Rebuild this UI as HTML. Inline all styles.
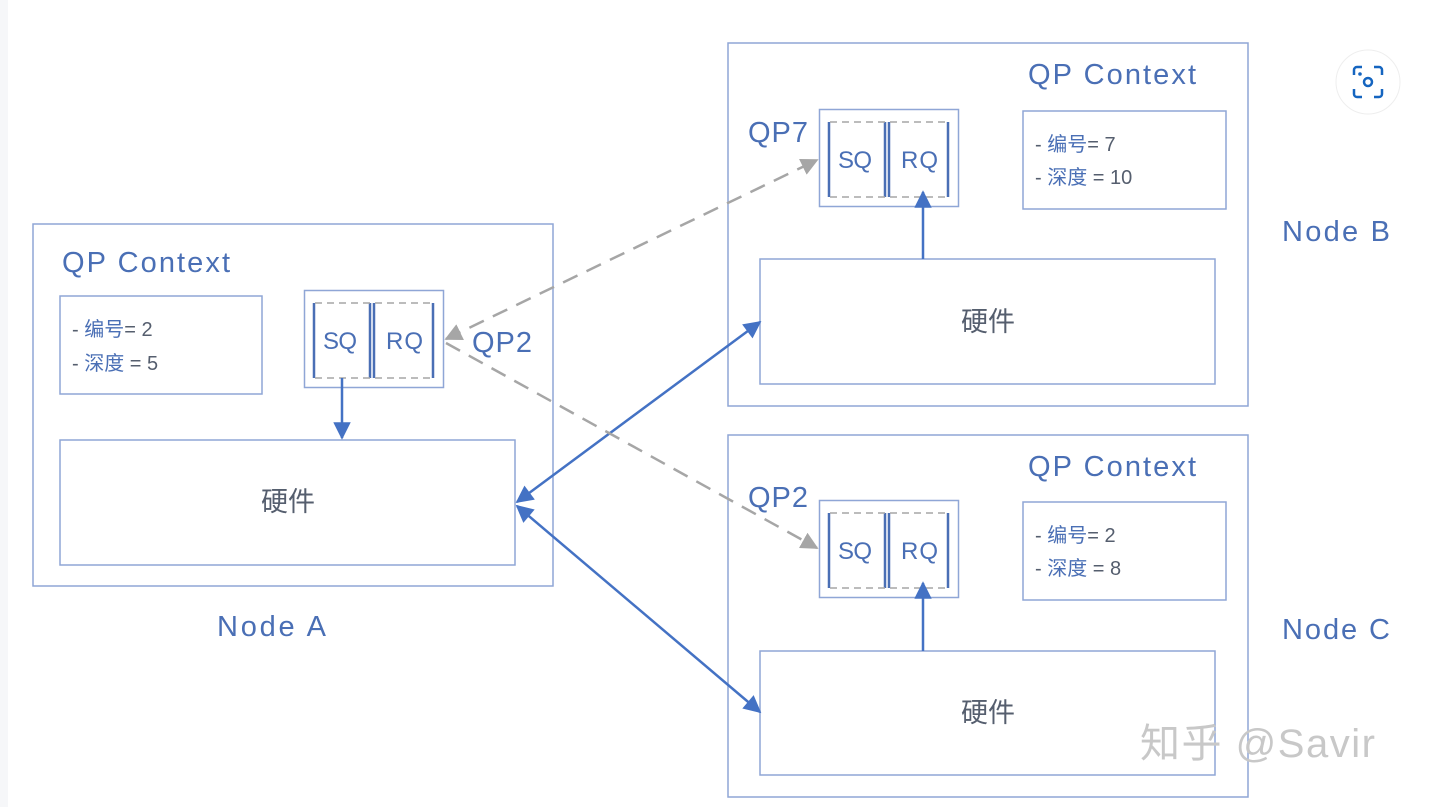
<!DOCTYPE html>
<html><head><meta charset="utf-8"><style>
html,body{margin:0;padding:0;background:#fff;}
svg{display:block;}
text{font-family:"Liberation Sans","Noto Sans CJK SC",sans-serif;}
</style></head><body>
<svg width="1441" height="807" viewBox="0 0 1441 807" xmlns="http://www.w3.org/2000/svg">
<defs>
<marker id="ab" viewBox="0 0 10 10" refX="9" refY="5" markerWidth="8" markerHeight="7" orient="auto-start-reverse" markerUnits="strokeWidth"><path d="M0,0L10,5L0,10z" fill="#4472c4"/></marker>
<marker id="ag" viewBox="0 0 10 10" refX="9" refY="5" markerWidth="7" markerHeight="7" orient="auto-start-reverse" markerUnits="strokeWidth"><path d="M0,0L10,5L0,10z" fill="#a6a6a6"/></marker>
<g id="q">
<rect x="0.5" y="0.5" width="139" height="97" fill="#fff" stroke="#8fa6d6" stroke-width="1.5"/>
<line x1="10" y1="13" x2="10" y2="88" stroke="#4a6fb5" stroke-width="2.5"/>
<line x1="66" y1="13" x2="66" y2="88" stroke="#4a6fb5" stroke-width="2.5"/>
<line x1="70" y1="13" x2="70" y2="88" stroke="#4a6fb5" stroke-width="2.5"/>
<line x1="129" y1="13" x2="129" y2="88" stroke="#4a6fb5" stroke-width="2.5"/>
<line x1="11" y1="13" x2="129" y2="13" stroke="#a6a6a6" stroke-width="1.5" stroke-dasharray="7,5"/>
<line x1="11" y1="88" x2="129" y2="88" stroke="#a6a6a6" stroke-width="1.5" stroke-dasharray="7,5"/>
<text x="19" y="59" font-size="24" fill="#4a6fb5" textLength="34">SQ</text>
<text x="82" y="59" font-size="24" fill="#4a6fb5" textLength="37">RQ</text>
</g>
</defs>
<rect x="0" y="0" width="8" height="807" fill="#f6f7f9"/>
<g fill="none" stroke="#8fa6d6" stroke-width="1.5">
<rect x="33" y="224" width="520" height="362"/>
<rect x="728" y="43" width="520" height="363"/>
<rect x="728" y="435" width="520" height="362"/>
<rect x="60" y="440" width="455" height="125"/>
<rect x="760" y="259" width="455" height="125"/>
<rect x="760" y="651" width="455" height="124"/>
<rect x="60" y="296" width="202" height="98"/>
<rect x="1023" y="111" width="203" height="98"/>
<rect x="1023" y="502" width="203" height="98"/>
</g>
<use href="#q" x="304" y="290"/>
<use href="#q" x="819" y="109"/>
<use href="#q" x="819" y="500"/>
<g fill="#4a6fb5" font-size="29">
<text x="62" y="272" textLength="168">QP Context</text>
<text x="1028" y="84" textLength="168">QP Context</text>
<text x="1028" y="476" textLength="168">QP Context</text>
<text x="217" y="636" textLength="109">Node A</text>
<text x="1282" y="241" textLength="108">Node B</text>
<text x="1282" y="639" textLength="108">Node C</text>
<text x="472" y="352" textLength="60">QP2</text>
<text x="748" y="142" textLength="60">QP7</text>
<text x="748" y="507" textLength="60">QP2</text>
</g>
<g fill="#555e6e" font-size="20">
<text x="72" y="336">- <tspan fill="#4a6fb5">编号</tspan>= 2</text>
<text x="72" y="370">- <tspan fill="#4a6fb5">深度</tspan> = 5</text>
<text x="1035" y="151">- <tspan fill="#4a6fb5">编号</tspan>= 7</text>
<text x="1035" y="184">- <tspan fill="#4a6fb5">深度</tspan> = 10</text>
<text x="1035" y="542">- <tspan fill="#4a6fb5">编号</tspan>= 2</text>
<text x="1035" y="575">- <tspan fill="#4a6fb5">深度</tspan> = 8</text>
</g>
<g fill="#555e6e" font-size="27" text-anchor="middle">
<text x="288" y="511">硬件</text>
<text x="988" y="331">硬件</text>
<text x="988" y="722">硬件</text>
</g>
<g stroke="#4472c4" stroke-width="2.5" fill="none">
<line x1="342" y1="378" x2="342" y2="438" marker-end="url(#ab)"/>
<line x1="923" y1="259" x2="923" y2="192" marker-end="url(#ab)"/>
<line x1="923" y1="651" x2="923" y2="583" marker-end="url(#ab)"/>
<line x1="517" y1="502" x2="760" y2="322" marker-start="url(#ab)" marker-end="url(#ab)"/>
<line x1="517" y1="506" x2="760" y2="712" marker-start="url(#ab)" marker-end="url(#ab)"/>
</g>
<g stroke="#a6a6a6" stroke-width="2.5" fill="none" stroke-dasharray="16,10">
<line x1="446" y1="339" x2="817" y2="160" marker-start="url(#ag)" marker-end="url(#ag)"/>
<line x1="446" y1="343" x2="817" y2="548" marker-end="url(#ag)"/>
</g>
<text x="1140" y="757" font-size="40" fill="#c8c8c8" textLength="235">知乎 @Savir</text>
<circle cx="1368" cy="82" r="32" fill="#fff" stroke="#eee"/>
<g fill="none" stroke="#1565c0" stroke-width="2.5">
<path d="M1354,75v-5a3,3 0 0 1 3,-3h5M1374,67h5a3,3 0 0 1 3,3v5M1382,89v5a3,3 0 0 1 -3,3h-5M1362,97h-5a3,3 0 0 1 -3,-3v-5"/>
<circle cx="1368" cy="82" r="4"/>
</g>
<circle cx="1360" cy="74" r="1.8" fill="#1565c0"/>
</svg>
</body></html>
